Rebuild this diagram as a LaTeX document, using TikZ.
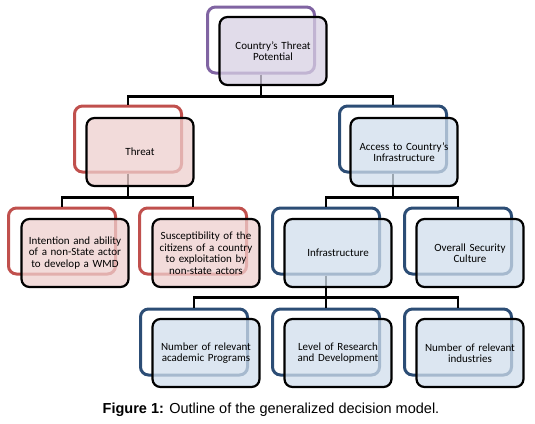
\documentclass[tikz,border=0pt]{standalone}
\usepackage{fontspec}
\setmainfont{Carlito}
\newfontfamily\capfont{Liberation Sans}
\usetikzlibrary{positioning,calc}
\definecolor{purpframe}{HTML}{8064A2}
\definecolor{redframe}{HTML}{C0504D}
\definecolor{blueframe}{HTML}{2C4D75}
\definecolor{purpfill}{HTML}{D7D0E3}
\definecolor{redfill}{HTML}{EECFCE}
\definecolor{bluefill}{HTML}{D0DEEC}
\tikzset{
  x=1pt,y=-1pt,
  backframe/.style={draw=#1, line width=3pt, rounded corners=8pt, minimum width=107pt, minimum height=66pt, inner sep=0pt},
  frontbox/.style={draw=black, line width=2.2pt, rounded corners=8pt, fill=#1, fill opacity=0.75, text opacity=1, minimum width=107pt, minimum height=68pt, text width=104pt, align=center, inner sep=0pt, font=\fontsize{11}{11.5}\selectfont, text=black},
  conn/.style={draw=black, line width=2.8pt},
}
\begin{document}
\begin{tikzpicture}
\useasboundingbox (0,0) rectangle (535,423);
% back frames
\node[backframe=purpframe] (topB) at (261,40) {};
\node[backframe=redframe] (thrB) at (128,139) {};
\node[backframe=blueframe] (accB) at (393,139) {};
\node[backframe=redframe] (intB) at (62,241) {};
\node[backframe=redframe] (susB) at (193,241) {};
\node[backframe=blueframe] (infB) at (326,241) {};
\node[backframe=blueframe] (ovrB) at (458,241) {};
\node[backframe=blueframe] (acaB) at (194,342) {};
\node[backframe=blueframe] (levB) at (326,342) {};
\node[backframe=blueframe] (indB) at (458,342) {};
% connectors
\draw[conn] (topB.south) -- ++(0,22) -| (thrB.north);
\draw[conn] (topB.south) -- ++(0,22) -| (accB.north);
\draw[conn] (thrB.south) -- ++(0,24) -| (intB.north);
\draw[conn] (thrB.south) -- ++(0,24) -| (susB.north);
\draw[conn] (accB.south) -- ++(0,24) -| (infB.north);
\draw[conn] (accB.south) -- ++(0,24) -| (ovrB.north);
\draw[conn] (infB.south) -- ++(0,22) -| (acaB.north);
\draw[conn] (infB.south) -- ++(0,22) -| (levB.north);
\draw[conn] (infB.south) -- ++(0,22) -| (indB.north);
% front boxes
\node[frontbox=purpfill] (top) at (273,51) {Country's Threat\\Potential};
\node[frontbox=redfill] (thr) at (140,152) {Threat};
\node[frontbox=bluefill] (acc) at (404,152) {Access to Country's\\Infrastructure};
\node[frontbox=redfill] (int) at (75,253) {Intention and ability\\of a non-State actor\\to develop a WMD};
\node[frontbox=redfill] (sus) at (206,253) {Susceptibility of the\\citizens of a country\\to exploitation by\\non-state actors};
\node[frontbox=bluefill] (inf) at (338,253) {Infrastructure};
\node[frontbox=bluefill] (ovr) at (470,253) {Overall Security\\Culture};
\node[frontbox=bluefill] (aca) at (206,353) {Number of relevant\\academic Programs};
\node[frontbox=bluefill] (lev) at (338,353) {Level of Research\\and Development};
\node[frontbox=bluefill] (ind) at (470,353) {Number of relevant\\industries};
% caption
\node[font=\capfont\fontsize{14.5}{16}\selectfont, inner sep=0pt] (cap) at (271,410) {\textbf{Figure 1:} Outline of the generalized decision model.};
\end{tikzpicture}
\end{document}
